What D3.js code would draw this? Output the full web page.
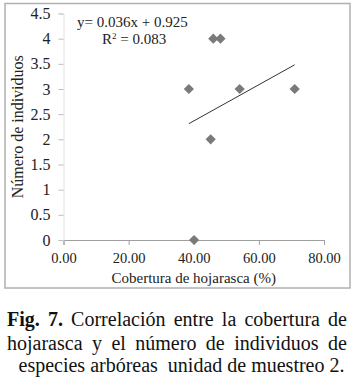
<!DOCTYPE html>
<html>
<head>
<meta charset="utf-8">
<script src="https://cdn.jsdelivr.net/npm/d3@7"></script>
<style>
  html, body { margin:0; padding:0; background:#fff; }
  #wrap { position:relative; width:363px; height:385px; overflow:hidden; }
  .cap { position:absolute; font-family:"Liberation Serif", "Times New Roman", serif;
         font-size:20px; line-height:20px; color:#111; white-space:nowrap; }
  .cap.just { text-align:justify; text-align-last:justify; }
  .cap.mid { text-align:center; }
  svg text { font-family:"Liberation Serif", "Times New Roman", serif; }
</style>
</head>
<body>
<div id="wrap"></div>
<script>
// ---- data -------------------------------------------------------
const coverage    = [38.5, 40.1, 45.2, 46.0, 48.2, 54.1, 71.0];   // % hojarasca
const individuals = [3, 0, 2, 4, 4, 3, 3];
const xTicks = [0, 20, 40, 60, 80];
const yTicks = [0, 0.5, 1, 1.5, 2, 2.5, 3, 3.5, 4, 4.5];
const fitSlope = 0.036, fitIntercept = 0.925;
const eqLabel  = "y= 0.036x + 0.925";
const r2Label  = "0.083";
const captionLines = [
  ["Fig. 7.", " Correlación entre la cobertura de"],
  ["", "hojarasca y el número de individuos de"],
  ["", "especies arbóreas\u00a0 unidad de muestreo 2."]
];

const W = 363, H = 385;
const pts = coverage.map((c, i) => ({ x: c, y: individuals[i] }));

const svg = d3.select("#wrap").append("svg")
  .attr("width", W).attr("height", H)
  .style("position", "absolute").style("left", 0).style("top", 0);

// chart frame
svg.append("rect")
  .attr("x", 5).attr("y", 3.5).attr("width", 345).attr("height", 284.5)
  .attr("fill", "none").attr("stroke", "#b0b0b0").attr("stroke-width", 1.5);

const x = d3.scaleLinear([0, 80], [63.5, 324]);
const y = d3.scaleLinear([0, 4.5], [240, 13.5]);

// x axis
svg.append("g")
  .attr("transform", "translate(0,240)")
  .call(d3.axisBottom(x).tickValues(xTicks).tickFormat(d3.format(".2f"))
          .tickSize(5).tickPadding(8))
  .call(g => {
    g.attr("font-family", null);
    g.select(".domain").attr("stroke", "#a0a0a0");
    g.selectAll(".tick line").attr("stroke", "#a0a0a0");
    g.selectAll("text").attr("font-size", 14.5).attr("fill", "#222");
  });

// y axis
svg.append("g")
  .attr("transform", "translate(63.5,0)")
  .call(d3.axisLeft(y).tickValues(yTicks).tickFormat(d => String(d))
          .tickSize(5).tickPadding(8))
  .call(g => {
    g.attr("font-family", null);
    g.select(".domain").attr("stroke", "#e2e2e2");
    g.selectAll(".tick line").attr("stroke", "#bdbdbd");
    g.selectAll("text").attr("font-size", 16).attr("fill", "#222");
  });

// axis titles
svg.append("text")
  .attr("x", x(40)).attr("y", 283)
  .attr("text-anchor", "middle").attr("font-size", 15).attr("fill", "#222")
  .text("Cobertura de hojarasca (%)");

svg.append("text")
  .attr("transform", `translate(22.5,${(y(0) + y(4.5)) / 2}) rotate(-90)`)
  .attr("text-anchor", "middle").attr("font-size", 16).attr("fill", "#222")
  .text("Número de individuos");

// linear trend line
const [xMin, xMax] = d3.extent(coverage);
svg.append("line")
  .attr("x1", x(xMin)).attr("y1", y(fitSlope * xMin + fitIntercept))
  .attr("x2", x(xMax)).attr("y2", y(fitSlope * xMax + fitIntercept))
  .attr("stroke", "#333").attr("stroke-width", 1);

// diamond markers
svg.append("g").selectAll("path")
  .data(pts)
  .join("path")
    .attr("transform", d => `translate(${x(d.x)},${y(d.y)}) rotate(45)`)
    .attr("d", d3.symbol(d3.symbolSquare, 52))
    .attr("fill", "#7a7a7a");

// equation
svg.append("text")
  .attr("x", 77).attr("y", 27).attr("font-size", 15).attr("fill", "#222")
  .text(eqLabel);
const r2 = svg.append("text")
  .attr("x", 102).attr("y", 44).attr("font-size", 15).attr("fill", "#222");
r2.append("tspan").text("R");
r2.append("tspan").attr("dy", -5).attr("font-size", 9).text("2");
r2.append("tspan").attr("dy", 5).text(" = " + r2Label);

// caption: first two lines justified, last one centred
const capTop = [309, 333, 355];
captionLines.forEach((ln, i) => {
  const last = i === captionLines.length - 1;
  const div = d3.select("#wrap").append("div")
    .attr("class", "cap " + (last ? "mid" : "just"))
    .style("left", (last ? 0 : 7) + "px").style("top", capTop[i] + "px")
    .style("width", (last ? W : 340) + "px");
  if (ln[0]) div.append("b").text(ln[0]);
  div.append("span").text(ln[1]);
});
</script>
</body>
</html>
